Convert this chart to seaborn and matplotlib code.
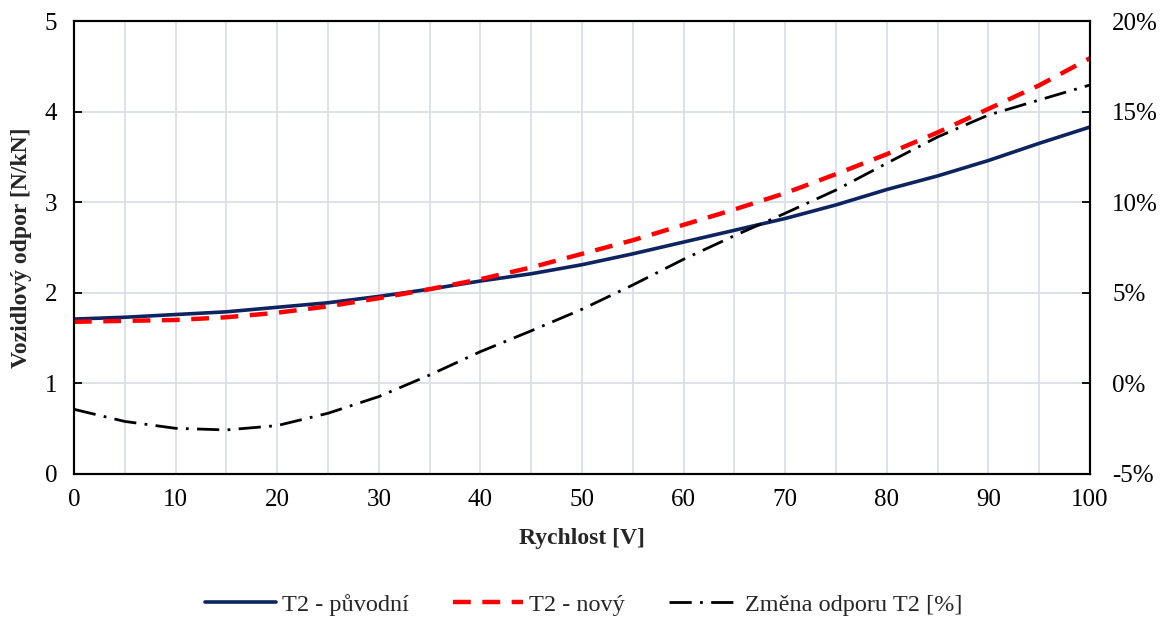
import numpy as np
import pandas as pd
import matplotlib
matplotlib.use("Agg")
import matplotlib.pyplot as plt
import seaborn as sns
from matplotlib.ticker import MultipleLocator, FuncFormatter

# rychlost [V]
rychlost = [0, 5, 10, 15, 20, 25, 30, 35, 40, 45, 50,
            55, 60, 65, 70, 75, 80, 85, 90, 95, 100]
# T2 - puvodni [N/kN]
t2_puvodni = [1.71, 1.73, 1.76, 1.79, 1.84, 1.89, 1.96, 2.04, 2.13, 2.21, 2.31,
              2.43, 2.56, 2.69, 2.82, 2.97, 3.14, 3.29, 3.46, 3.65, 3.83]
# T2 - novy [N/kN]
t2_novy = [1.68, 1.69, 1.70, 1.73, 1.78, 1.85, 1.94, 2.04, 2.15, 2.28, 2.43,
           2.58, 2.75, 2.92, 3.10, 3.31, 3.53, 3.77, 4.03, 4.29, 4.59]
# zmena odporu [%]
zmena = [-1.43, -2.10, -2.48, -2.57, -2.33, -1.65, -0.73, 0.46, 1.75, 2.90, 4.09,
         5.43, 6.85, 8.15, 9.39, 10.67, 12.15, 13.60, 14.81, 15.64, 16.47]

df = pd.DataFrame({"V": rychlost, "puv": t2_puvodni, "nov": t2_novy, "zm": zmena})

sns.set_style("white")
plt.rcParams['font.family'] = ['Liberation Serif', 'DejaVu Serif']

fig = plt.figure(figsize=(11.61, 6.19), dpi=100)
ax = fig.add_axes([0.0637, 0.2343, 0.8751, 0.7317])
ax2 = ax.twinx()

grid_c = "#d9dee8"
sns.lineplot(data=df, x="V", y="puv", ax=ax, color="#0d2461", lw=2.6,
             legend=False, zorder=3)
sns.lineplot(data=df, x="V", y="nov", ax=ax, color="#ff0000", lw=3.2,
             linestyle=(0, (4, 2.6)), legend=False, zorder=4)
sns.lineplot(data=df, x="V", y="zm", ax=ax2, color="black", lw=2.0,
             linestyle=(0, (8, 3, 1, 3)), legend=False)

ax.set_xlim(0, 100)
ax.set_ylim(0, 5)
ax2.set_ylim(-5, 20)

ax.xaxis.set_major_locator(MultipleLocator(10))
ax.xaxis.set_minor_locator(MultipleLocator(5))
ax.yaxis.set_major_locator(MultipleLocator(1))
ax2.yaxis.set_major_locator(MultipleLocator(5))
ax2.yaxis.set_major_formatter(FuncFormatter(lambda v, p: f"{v:.0f}%"))

ax.grid(True, which="both", axis="x", color=grid_c, lw=1.3)
ax.grid(True, which="major", axis="y", color=grid_c, lw=1.3)
ax.set_axisbelow(True)
ax2.grid(False)

for a in (ax, ax2):
    for s in a.spines.values():
        s.set_color("black")
        s.set_linewidth(1.5)
    a.tick_params(which="both", direction="in", length=6, width=1.3, colors="black",
                  labelsize=18)
ax.tick_params(axis="x", which="both", top=False, pad=11)
ax.tick_params(axis="y", right=False, pad=12)
ax2.tick_params(axis="y", pad=16)

ax.set_xlabel("Rychlost [V]", fontsize=17, fontweight="bold", labelpad=12)
ax.set_ylabel("Vozidlový odpor [N/kN]", fontsize=17, fontweight="bold", labelpad=9)
ax2.set_ylabel("")

handles = ax.get_lines()[:2] + ax2.get_lines()[:1]
labels = ["T2 - původní", "T2 - nový", "Změna odporu T2 [%]"]
fig.legend(handles, labels, loc="center", bbox_to_anchor=(0.503, 0.023), ncol=3,
           frameon=False, fontsize=17.5, handlelength=2.9, columnspacing=1.8,
           handletextpad=0.25)

fig.savefig("out.png", dpi=100)
